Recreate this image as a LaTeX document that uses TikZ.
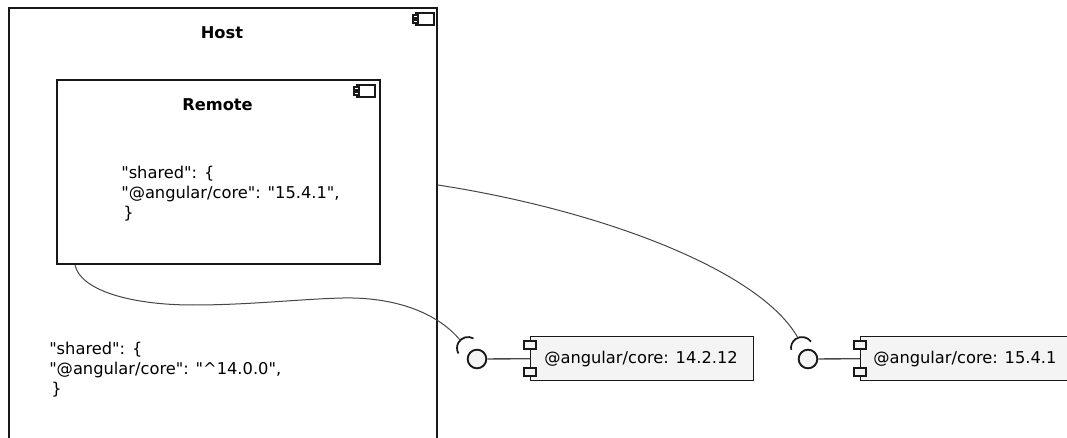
\documentclass[tikz,border=0pt]{standalone}
\usepackage{fontspec}
\newfontfamily\djv{DejaVu Sans}
\definecolor{edge}{HTML}{181818}
\definecolor{compfill}{HTML}{F4F4F4}
\begin{document}
\begin{tikzpicture}[x=0.75pt,y=-0.75pt,
  txt/.style={font=\djv\fontsize{12.2}{15}\selectfont, inner sep=0pt},
  ttl/.style={font=\djv\fontsize{12.2}{15}\selectfont\bfseries, inner sep=0pt},
  container/.style={draw=edge, line width=1.4pt, fill=white, anchor=north west, inner sep=0pt},
  compbox/.style={draw=edge, line width=1.1pt, fill=compfill, anchor=north west, inner sep=0pt, minimum height=33pt},
  tab/.style={draw=edge, line width=0.9pt, fill=compfill},
  icon/.style={draw=edge, line width=1pt, fill=white},
  iface/.style={circle, draw=edge, line width=1.4pt, fill=compfill, inner sep=0pt, minimum size=14pt},
  conn/.style={draw=edge!80, line width=0.75pt},
  socket/.style={draw=edge, line width=1.3pt}]
\useasboundingbox (0,0) rectangle (1067,438);
\clip (0,0) rectangle (1067,438);

% Host container
\node[container, minimum width=321pt, minimum height=330pt] (host) at (8,7) {};
\draw[icon] ([shift={(-22,6)}]host.north east) rectangle +(18,12);
\draw[icon] ([shift={(-25,8)}]host.north east) rectangle +(5,3);
\draw[icon] ([shift={(-25,13)}]host.north east) rectangle +(5,3);
\node[ttl] (hostlabel) at (222,32.5) {Host};
\node[txt, align=left, anchor=west] (hosttext) at (49,370) {"shared": \{\\"@angular/core": "\textasciicircum 14.0.0",\\\hspace{1.5pt}\}};

% Remote container
\node[container, minimum width=242.25pt, minimum height=138pt] (remote) at (56,79) {};
\draw[icon] ([shift={(-24,6)}]remote.north east) rectangle +(18,12);
\draw[icon] ([shift={(-27,8)}]remote.north east) rectangle +(5,3);
\draw[icon] ([shift={(-27,13)}]remote.north east) rectangle +(5,3);
\node[ttl] (remotelabel) at (217.5,104.5) {Remote};
\node[txt, align=left, anchor=west] (remotetext) at (121,194) {"shared": \{\\"@angular/core": "15.4.1",\\\hspace{1.5pt}\}};

% Component 1
\node[compbox, minimum width=167.25pt] (c1) at (530,336) {};
\draw[tab] ([shift={(-6,5)}]c1.north west) rectangle +(12,8);
\draw[tab] ([shift={(-6,32)}]c1.north west) rectangle +(12,8);
\node[txt, anchor=west] (c1text) at (544,359) {@angular/core: 14.2.12};
\node[iface] (i1) at (477,359) {};
\draw[conn, line width=1pt] (i1) -- (c1.west);
\coordinate (s1c) at ([shift={(-9,-11)}]i1.center);
\draw[socket] ([shift={(-60:11)}]s1c) arc[start angle=-60, end angle=-210, radius=11];
\coordinate (s1) at ([shift={(-135:11)}]s1c);

% Component 2
\node[compbox, minimum width=158.25pt] (c2) at (860,336) {};
\draw[tab] ([shift={(-6,5)}]c2.north west) rectangle +(12,8);
\draw[tab] ([shift={(-6,32)}]c2.north west) rectangle +(12,8);
\node[txt, anchor=west] (c2text) at (873,359) {@angular/core: 15.4.1};
\node[iface] (i2) at (808,359) {};
\draw[conn, line width=1pt] (i2) -- (c2.west);
\coordinate (s2c) at ([shift={(-6,-11)}]i2.center);
\draw[socket] ([shift={(-35:11)}]s2c) arc[start angle=-35, end angle=-190, radius=11];
\coordinate (s2) at ([shift={(-112:11)}]s2c);

% Connectors
\draw[conn] ([xshift=14.25pt]remote.south west) .. controls (80,290) and (130,305) .. (193,305)
  .. controls (250,305) and (300,299) .. (343,298)
  .. controls (390,297) and (435,310) .. (s1);
\draw[conn] ([yshift=-133.5pt]host.north east) .. controls (600,210) and (760,270) .. (s2);
\end{tikzpicture}
\end{document}
